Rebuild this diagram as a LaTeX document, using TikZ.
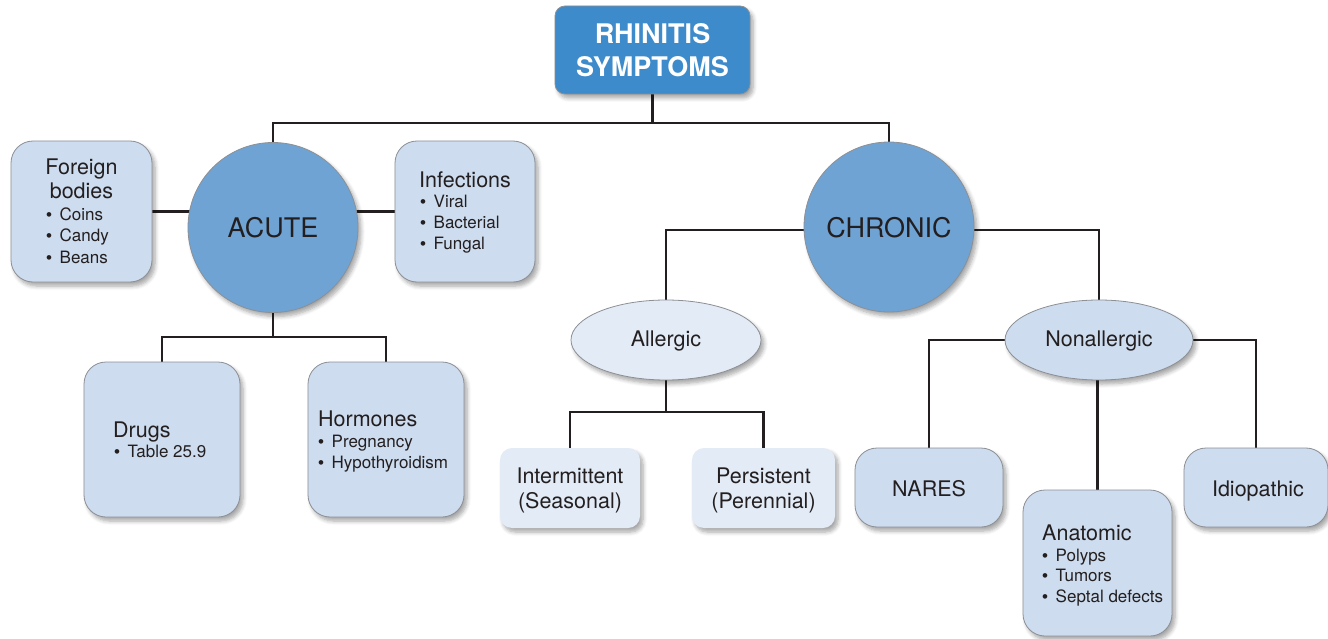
\documentclass[tikz,border=0pt]{standalone}
\usepackage{fontspec}
\setmainfont{TeX Gyre Heros}
\newfontfamily\bulfont{Liberation Sans}
\usetikzlibrary{shapes.geometric,shadows.blur,backgrounds}
\definecolor{topblue}{HTML}{3D8BCB}
\definecolor{circblue}{HTML}{6FA3D4}
\definecolor{boxblue}{HTML}{CDDCEE}
\definecolor{paleblue}{HTML}{E3EBF6}
\definecolor{edgegray}{HTML}{8C8F94}
\definecolor{ink}{HTML}{231F20}
\newcommand{\bul}[1]{\makebox[13.5pt][l]{\bulfont •}#1}
\tikzset{
  shad/.style={blur shadow={shadow blur steps=6,shadow xshift=3pt,shadow yshift=-4pt,shadow opacity=35,shadow blur radius=4pt}},
  topbox/.style={draw=edgegray,line width=0.8pt,fill=topblue,rounded corners=10pt,minimum width=195pt,minimum height=88pt,shad},
  bigcirc/.style={circle,draw=edgegray,line width=0.8pt,fill=circblue,minimum size=170pt,inner sep=0pt,shad},
  ebox/.style={draw=edgegray,line width=0.8pt,fill=boxblue,rounded corners=22pt,shad},
  pbox/.style={fill=paleblue,rounded corners=12pt,shad},
  oval/.style={ellipse,draw=edgegray,line width=0.8pt,minimum width=190pt,minimum height=80pt,inner sep=0pt,shad},
  ttl/.style={font=\fontsize{21.5pt}{24pt}\selectfont,text=ink,inner sep=0pt},
  itm/.style={font=\fontsize{17pt}{19pt}\selectfont,text=ink,inner sep=0pt,anchor=base west},
  bigt/.style={font=\fontsize{27pt}{30pt}\selectfont,text=ink,inner sep=0pt,anchor=base},
  topt/.style={font=\fontsize{27pt}{30pt}\selectfont\bfseries,text=white,inner sep=0pt,anchor=base},
  conn/.style={line width=2.4pt,draw=ink}
}
\begin{document}
\begin{tikzpicture}[x=1pt,y=-1pt]
\useasboundingbox (0,0) rectangle (1328,639);
% nodes
\node[topbox] (top) at (652.5,50) {};
\node[topt] (t1) at (652.5,44) {RHINITIS};
\node[topt] (t2) at (652.5,77) {SYMPTOMS};

\node[bigcirc] (acute) at (273,227.5) {};
\node[bigt] (acutet) at (273,238) {ACUTE};
\node[bigcirc] (chronic) at (889,227) {};
\node[bigt] (chronict) at (889,237) {CHRONIC};

\node[ebox,minimum width=141pt,minimum height=141pt] (foreign) at (81.5,211.5) {};
\node[ttl,anchor=base] (f1) at (81.5,175) {Foreign};
\node[ttl,anchor=base] (f2) at (81.5,199) {bodies};
\node[itm] (f3) at (46,221) {\bul{Coins}};
\node[itm] (f4) at (46,242) {\bul{Candy}};
\node[itm] (f5) at (46,263) {\bul{Beans}};

\node[ebox,minimum width=140pt,minimum height=141pt] (infections) at (465,211.5) {};
\node[ttl,anchor=base west] (i1) at (419,188) {Infections};
\node[itm] (i2) at (420,208) {\bul{Viral}};
\node[itm] (i3) at (420,229) {\bul{Bacterial}};
\node[itm] (i4) at (420,250) {\bul{Fungal}};

\node[ebox,minimum width=156pt,minimum height=155pt] (drugs) at (162,439.5) {};
\node[ttl,anchor=base west] (d1) at (113,437) {Drugs};
\node[itm] (d2) at (114,457) {\bul{Table 25.9}};

\node[ebox,minimum width=156pt,minimum height=155pt] (hormones) at (386,439.5) {};
\node[ttl,anchor=base west] (h1) at (318,426) {Hormones};
\node[itm] (h2) at (318,447) {\bul{Pregnancy}};
\node[itm] (h3) at (318,468) {\bul{Hypothyroidism}};

\node[oval,fill=paleblue] (allergic) at (666,340) {};
\node[ttl,anchor=base] (a1) at (666,346) {Allergic};
\node[pbox,minimum width=140pt,minimum height=80pt] (inter) at (570,488) {};
\node[ttl,anchor=base] (in1) at (570,483) {Intermittent};
\node[ttl,anchor=base] (in2) at (570,508) {(Seasonal)};
\node[pbox,minimum width=143pt,minimum height=80pt] (pers) at (763.5,488) {};
\node[ttl,anchor=base] (p1) at (763.5,483) {Persistent};
\node[ttl,anchor=base] (p2) at (763.5,508) {(Perennial)};

\node[oval,fill=boxblue,minimum width=188pt] (nonallergic) at (1099,340) {};
\node[ttl,anchor=base] (n1) at (1099,346) {Nonallergic};
\node[ebox,minimum width=148pt,minimum height=79pt] (nares) at (929,487.5) {};
\node[ttl,anchor=base] (na) at (929,496) {NARES};
\node[ebox,minimum width=144pt,minimum height=79pt] (idio) at (1256,487.5) {};
\node[ttl,anchor=base] (id) at (1258,496) {Idiopathic};
\node[ebox,minimum width=149pt,minimum height=146pt] (anatomic) at (1097.5,563) {};
\node[ttl,anchor=base west] (an1) at (1042,540) {Anatomic};
\node[itm] (an2) at (1042,561) {\bul{Polyps}};
\node[itm] (an3) at (1042,581) {\bul{Tumors}};
\node[itm] (an4) at (1042,602) {\bul{Septal defects}};

\coordinate (tj) at (652.5,123);
\coordinate (bj) at (273,337);
\coordinate (aj) at (666,412);
\coordinate (cj) at (889,230);
% connectors
\begin{scope}[on background layer]
\draw[conn] (top) -- (tj);
\draw[conn] (acute) |- (tj) -| (chronic);
\draw[conn] (foreign) -- (acute.center |- foreign);
\draw[conn] (acute.center |- infections) -- (infections);
\draw[conn] (acute) -- (bj);
\draw[conn] (drugs) |- (bj) -| (hormones);
\draw[conn] (cj) -| (allergic);
\draw[conn] (cj) -| (nonallergic);
\draw[conn] (allergic) -- (aj);
\draw[conn] (inter) |- (aj) -| (pers);
\draw[conn] (nares) |- (nonallergic) -| (idio);
\draw[conn] (anatomic |- nonallergic) -- (anatomic);
\end{scope}
\end{tikzpicture}
\end{document}
